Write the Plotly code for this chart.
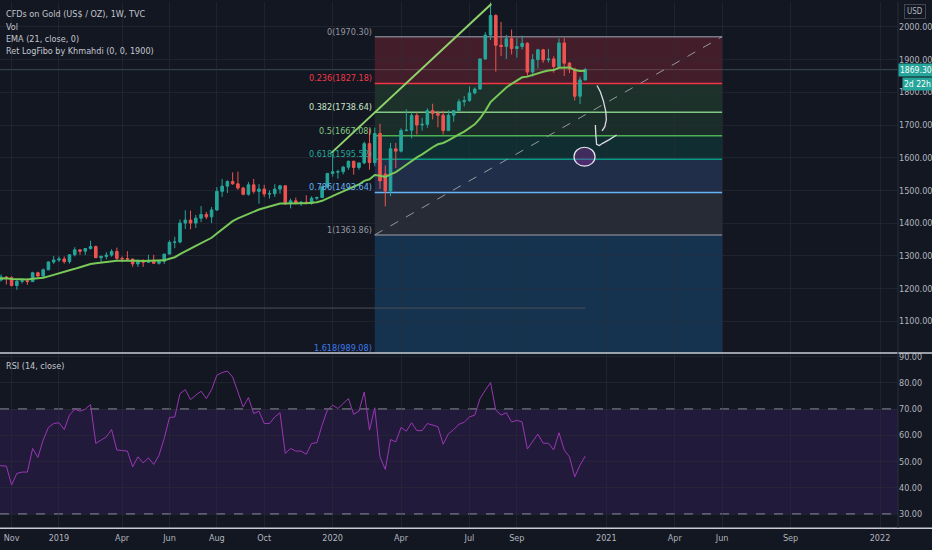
import pandas as pd
import plotly.graph_objects as go

# -----------------------------
# Weekly gold candles (TVC, 1W)
# -----------------------------

weeks = pd.date_range("2018-10-15", "2020-12-07", freq="W-MON")

opens = [1222, 1226, 1235, 1233, 1209, 1222, 1223, 1221, 1248, 1238, 1257, 1281, 1287, 1290, 1282, 1303,
         1318, 1314, 1322, 1328, 1294, 1298, 1302, 1313, 1292, 1291, 1290, 1275, 1286, 1280, 1286, 1277,
         1283, 1305, 1341, 1342, 1400, 1409, 1400, 1415, 1426, 1419, 1440, 1497, 1513, 1527, 1520, 1507,
         1488, 1517, 1497, 1504, 1489, 1490, 1504, 1514, 1459, 1468, 1462, 1464, 1460, 1476, 1478, 1511,
         1552, 1556, 1557, 1571, 1589, 1570, 1584, 1643, 1585, 1674, 1550, 1498, 1627, 1620, 1683, 1684,
         1729, 1700, 1702, 1744, 1735, 1730, 1683, 1730, 1744, 1771, 1775, 1798, 1810, 1902, 1975, 2035,
         1944, 1940, 1964, 1934, 1940, 1950, 1862, 1900, 1930, 1899, 1902, 1879, 1951, 1889, 1871, 1788,
         1838]
highs = [1233, 1243, 1238, 1237, 1226, 1231, 1230, 1251, 1251, 1261, 1283, 1299, 1298, 1298, 1304, 1326,
         1319, 1318, 1346, 1331, 1301, 1311, 1320, 1325, 1298, 1314, 1291, 1287, 1289, 1303, 1303, 1287,
         1306, 1347, 1358, 1411, 1439, 1438, 1425, 1452, 1434, 1449, 1510, 1535, 1531, 1555, 1557, 1511,
         1526, 1535, 1519, 1517, 1500, 1519, 1517, 1515, 1475, 1478, 1466, 1485, 1482, 1481, 1514, 1553,
         1611, 1563, 1575, 1591, 1591, 1584, 1649, 1689, 1692, 1704, 1576, 1645, 1645, 1690, 1748, 1738,
         1738, 1722, 1751, 1765, 1744, 1744, 1745, 1745, 1779, 1789, 1818, 1815, 1904, 1984, 2075, 2039,
         2015, 1976, 1992, 1966, 1973, 1953, 1917, 1933, 1933, 1933, 1910, 1965, 1966, 1893, 1875, 1848,
         1875]
lows = [1219, 1221, 1212, 1206, 1196, 1215, 1211, 1220, 1235, 1236, 1256, 1275, 1281, 1276, 1276, 1298,
        1303, 1302, 1319, 1293, 1280, 1289, 1297, 1287, 1280, 1286, 1266, 1266, 1266, 1278, 1275, 1273,
        1275, 1305, 1323, 1338, 1382, 1381, 1385, 1403, 1412, 1400, 1437, 1480, 1492, 1517, 1502, 1485,
        1484, 1490, 1459, 1480, 1475, 1480, 1490, 1456, 1445, 1457, 1452, 1458, 1456, 1470, 1477, 1507,
        1542, 1536, 1549, 1563, 1548, 1563, 1580, 1563, 1574, 1504, 1451, 1482, 1568, 1616, 1681, 1659,
        1671, 1683, 1692, 1717, 1693, 1671, 1682, 1710, 1743, 1757, 1771, 1794, 1808, 1900, 1960, 1863,
        1911, 1902, 1916, 1906, 1931, 1848, 1848, 1873, 1890, 1891, 1860, 1877, 1850, 1859, 1775, 1764,
        1836]
closes = [1226, 1235, 1233, 1209, 1222, 1223, 1221, 1248, 1238, 1257, 1281, 1287, 1290, 1282, 1303, 1318,
          1314, 1322, 1328, 1294, 1298, 1302, 1313, 1292, 1291, 1290, 1275, 1286, 1280, 1286, 1277, 1283,
          1305, 1341, 1342, 1400, 1409, 1400, 1415, 1426, 1419, 1440, 1497, 1513, 1527, 1520, 1507, 1488,
          1517, 1497, 1504, 1489, 1490, 1504, 1514, 1459, 1468, 1462, 1464, 1460, 1476, 1478, 1511, 1552,
          1557, 1557, 1571, 1589, 1570, 1584, 1643, 1585, 1674, 1529, 1498, 1627, 1620, 1683, 1684, 1729,
          1700, 1702, 1744, 1735, 1730, 1683, 1730, 1744, 1771, 1775, 1798, 1810, 1902, 1975, 2035, 1944,
          1940, 1964, 1934, 1940, 1950, 1862, 1900, 1930, 1899, 1902, 1879, 1951, 1889, 1871, 1788, 1838,
          1869.3]

# EMA (21, close) as drawn on the chart
ema = [1230.5, 1231, 1231, 1229, 1228.5, 1228, 1227.5, 1229.5, 1230, 1232.5, 1237, 1241.5, 1246, 1249,
       1254, 1260, 1265, 1270, 1275, 1277, 1279, 1281, 1284, 1284.5, 1285, 1285.5, 1284.5, 1284.5, 1284,
       1284.5, 1284, 1284, 1286, 1291, 1295.5, 1305, 1314.5, 1322, 1330.5, 1339, 1346.5, 1355, 1368, 1381,
       1394.5, 1406, 1414.5, 1421, 1429.5, 1435.5, 1441.5, 1446, 1450, 1455, 1460, 1460, 1461, 1461, 1461,
       1461, 1462.5, 1464, 1468, 1476, 1483, 1490, 1497, 1505, 1511, 1518, 1529, 1534, 1547, 1545, 1541,
       1549, 1556, 1567, 1578, 1591, 1601, 1610, 1622, 1632, 1641, 1645, 1653, 1661, 1671, 1680, 1691,
       1702, 1720, 1743, 1770, 1786, 1800, 1815, 1826, 1836, 1846, 1848, 1853, 1860, 1863, 1867, 1868,
       1875, 1876, 1876, 1868, 1865, 1866]

# RSI (14, close) as drawn on the chart
rsi = [49, 48.4, 48.3, 41.1, 45.5, 46, 46, 55, 51.6, 58.2, 63, 64.5, 64.8, 62.2, 67.7, 70, 69.2, 70, 71.7,
       56.9, 58.2, 59.4, 62.2, 54.4, 54.2, 54, 48, 51.8, 49.5, 51.4, 48.9, 52.4, 58.8, 66.8, 67, 75.9,
       77.4, 73.6, 75.3, 76.8, 74, 77.4, 82.9, 83.9, 84.5, 82.2, 76.5, 70.8, 74.4, 68.3, 69.2, 64.5, 64.5,
       67, 68.6, 53.1, 55, 54, 54, 52.8, 56.9, 57.2, 63.9, 69.6, 71.5, 70.2, 72.1, 74, 68, 69.2, 76.5, 62,
       70.5, 51.8, 47, 58.4, 57.5, 63, 61.6, 64.8, 61.8, 61.8, 64.5, 63.9, 63.3, 56.6, 60.6, 62.2, 64.2,
       65, 67, 67.7, 74, 77.2, 80.1, 69.6, 67.7, 68.6, 65.1, 65.7, 65.1, 54.8, 57.6, 60.5, 57, 57, 54.4,
       61, 54.4, 51.8, 44.2, 48.7, 52.1]

last_price = 1869.30

# Retracement levels (Ret LogFibo)
fib_ratios = ["0", "0.236", "0.382", "0.5", "0.618", "0.786", "1", "1.618"]
fib_prices = [1970.30, 1827.18, 1738.64, 1667.08, 1595.52, 1493.64, 1363.86, 989.08]
fib_start = "2020-03-02"
fib_end = "2021-06-07"

# axis ticks
x_ticks = ["2018-11-05", "2019-01-07", "2019-04-01", "2019-06-03", "2019-08-05", "2019-10-07",
           "2020-01-06", "2020-04-06", "2020-07-06", "2020-09-07", "2021-01-04", "2021-04-05",
           "2021-06-07", "2021-09-06", "2022-01-03"]
x_labels = ["Nov", "2019", "Apr", "Jun", "Aug", "Oct", "2020", "Apr", "Jul", "Sep", "2021", "Apr",
            "Jun", "Sep", "2022"]
price_ticks = [1100, 1200, 1300, 1400, 1500, 1600, 1700, 1800, 1900, 2000]
rsi_ticks = [30, 40, 50, 60, 70, 80, 90]

# -----------------------------
# Styling
# -----------------------------

BG = "#131722"
GRID = "rgba(42,46,57,0.55)"
TXT = "#b2b5be"
UP = "#26a69a"
DOWN = "#ef5350"
FONT = "Liberation Sans Narrow, DejaVu Sans Condensed, Liberation Sans, sans-serif"
FS = 9

fib_line_colors = ["#787b86", "#f23645", "#81c784", "#4caf50", "#089981", "#64b5f6", "#787b86", "#2962ff"]
fib_fill_colors = ["rgba(242,54,69,0.22)", "rgba(76,175,80,0.17)", "rgba(76,175,80,0.15)",
                   "rgba(8,153,129,0.18)", "rgba(90,140,230,0.2)", "rgba(120,123,134,0.2)",
                   "rgba(33,150,243,0.22)"]
fib_text_colors = ["#9598a1", "#f23645", "#c8e6c9", "#81c784", "#26a69a", "#64b5f6", "#9598a1", "#3d7bf0"]

x_range = ["2018-10-20 14:00", "2022-01-26 22:00"]
y_range = [1002.6, 2076.3]
rsi_range = [24.7, 91.0]

PLOT_H = 528


def py(pix):
    # pixel row inside the plot area -> paper fraction
    return 1 - pix / PLOT_H


fig = go.Figure()

fig.add_trace(go.Candlestick(
    x=weeks, open=opens, high=highs, low=lows, close=closes,
    increasing=dict(line=dict(color=UP, width=1), fillcolor=UP),
    decreasing=dict(line=dict(color=DOWN, width=1), fillcolor=DOWN),
    whiskerwidth=0, xaxis="x", yaxis="y", hoverinfo="skip",
))

fig.add_trace(go.Scatter(
    x=weeks, y=ema, mode="lines", line=dict(color="#78c957", width=2),
    xaxis="x", yaxis="y", hoverinfo="skip",
))

fig.add_trace(go.Scatter(
    x=weeks, y=rsi, mode="lines", line=dict(color="#9a36b4", width=1),
    xaxis="x2", yaxis="y2", hoverinfo="skip",
))

shapes = []
annotations = []

# fib zones and lines
for i in range(len(fib_prices) - 1):
    shapes.append(dict(type="rect", xref="x", yref="y", x0=fib_start, x1=fib_end,
                       y0=fib_prices[i + 1], y1=fib_prices[i], fillcolor=fib_fill_colors[i],
                       line=dict(width=0), layer="below"))
for i, p in enumerate(fib_prices):
    shapes.append(dict(type="line", xref="x", yref="y", x0=fib_start, x1=fib_end, y0=p, y1=p,
                       line=dict(color=fib_line_colors[i], width=1.5), layer="between"))
    annotations.append(dict(xref="x", yref="y", x=fib_start, y=max(p, y_range[0]),
                            text=f"{fib_ratios[i]}({p:.2f})", showarrow=False,
                            xanchor="right", yanchor="bottom", xshift=-1, yshift=-2,
                            font=dict(color=fib_text_colors[i], size=FS)))

# dashed diagonal of the fib tool
shapes.append(dict(type="line", xref="x", yref="y", x0=fib_start, y0=fib_prices[6],
                   x1=fib_end, y1=fib_prices[0],
                   line=dict(color="#9598a1", width=1, dash="dash"), layer="between"))

# green trend line drawing
shapes.append(dict(type="line", xref="x", yref="y", x0="2020-01-04", y0=1614, x1="2020-08-04", y1=2070,
                   line=dict(color="#8fd36c", width=2), layer="above"))

# horizontal gray line and current price line
shapes.append(dict(type="line", xref="x", yref="y", x0=x_range[0], x1=weeks[-1], y0=1140, y1=1140,
                   line=dict(color="#4e515c", width=1), layer="between"))
shapes.append(dict(type="line", xref="paper", yref="y", x0=0, x1=1, y0=last_price, y1=last_price,
                   line=dict(color="rgba(80,110,115,0.6)", width=1), layer="between"))

# hand drawn arrow and ellipse
shapes.append(dict(type="path", xref="x", yref="y",
                   path="M2020-12-22_14:00,1820.7 L2020-12-27,1801.7 L2020-12-31,1774.3 "
                        "L2021-01-03_07:00,1740.8 L2021-01-04,1716.3 L2021-01-02,1695 "
                        "L2020-12-29_07:00,1681.9",
                   line=dict(color="#d8dbe2", width=1.3), layer="above"))
shapes.append(dict(type="path", xref="x", yref="y",
                   path="M2020-12-20_10:00,1700.2 L2020-12-21,1670.6 L2020-12-22_02:00,1641 "
                        "L2020-12-25_17:00,1637 L2020-12-30,1644 L2021-01-08,1655.3 "
                        "L2021-01-17_17:00,1669.6",
                   line=dict(color="#d8dbe2", width=1.3), layer="above"))
shapes.append(dict(type="circle", xref="x", yref="y", x0="2020-11-22", x1="2020-12-20", y0=1574, y1=1632,
                   fillcolor="rgba(156,39,176,0.35)", line=dict(color="#e6e6ee", width=1.2), layer="above"))

# RSI band and levels
shapes.append(dict(type="rect", xref="paper", yref="y2", x0=0, x1=1, y0=30, y1=70,
                   fillcolor="rgba(120,50,200,0.15)", line=dict(width=0), layer="below"))
for lvl in (70, 30):
    shapes.append(dict(type="line", xref="paper", yref="y2", x0=0, x1=1, y0=lvl, y1=lvl,
                       line=dict(color="#b8bbc4", width=1, dash="dash"), layer="between"))

# pane separators
shapes.append(dict(type="line", xref="paper", yref="paper", x0=0, x1=1.04, y0=py(352.3), y1=py(352.3),
                   line=dict(color="#c9ccd3", width=1.5)))
shapes.append(dict(type="line", xref="paper", yref="paper", x0=0, x1=1.04, y0=py(528.3), y1=py(528.3),
                   line=dict(color="#c9ccd3", width=1.5)))
shapes.append(dict(type="line", xref="paper", yref="paper", x0=1, x1=1, y0=py(528), y1=1,
                   line=dict(color="#2a2e39", width=1)))

# legend texts
legend_lines = ["CFDs on Gold (US$ / OZ), 1W, TVC", "Vol", "EMA (21, close, 0)",
                "Ret LogFibo by Khmahdi (0, 0, 1900)"]
for i, t in enumerate(legend_lines):
    annotations.append(dict(xref="paper", yref="paper", x=0.004, y=py(12.3 + 12.3 * i), text=t,
                            showarrow=False, xanchor="left", yanchor="middle",
                            font=dict(color="#c3c6ce", size=FS)))
annotations.append(dict(xref="paper", yref="paper", x=0.004, y=py(365), text="RSI (14, close)",
                        showarrow=False, xanchor="left", yanchor="middle",
                        font=dict(color="#c3c6ce", size=FS)))

# price axis badges
annotations.append(dict(xref="paper", yref="paper", x=1, xshift=17, y=py(10), text="USD",
                        showarrow=False, xanchor="center", yanchor="middle",
                        bordercolor="#434651", borderwidth=1, borderpad=2,
                        font=dict(color=TXT, size=8)))
annotations.append(dict(xref="paper", yref="y", x=1, y=last_price, text=f"{last_price:.2f}",
                        showarrow=False, xanchor="left", yanchor="middle", xshift=0,
                        bgcolor=UP, borderpad=1, font=dict(color="#ffffff", size=8.5)))
annotations.append(dict(xref="paper", yref="y", x=1, y=last_price, yshift=-14, xshift=4,
                        text="2d 22h", showarrow=False, xanchor="left", yanchor="middle",
                        bgcolor=UP, borderpad=1, font=dict(color="#ffffff", size=8.5)))

fig.update_layout(
    width=932,
    height=550,
    margin=dict(l=0, r=33, t=0, b=22),
    paper_bgcolor=BG,
    plot_bgcolor=BG,
    font=dict(family=FONT, color=TXT, size=FS),
    showlegend=False,
    hovermode=False,
    shapes=shapes,
    annotations=annotations,
    xaxis=dict(domain=[0, 1], anchor="y", range=x_range, tickvals=x_ticks, ticktext=x_labels,
               showticklabels=False, showgrid=True, gridcolor=GRID, zeroline=False,
               rangeslider=dict(visible=False), showline=False),
    xaxis2=dict(domain=[0, 1], anchor="y2", matches="x", range=x_range, tickvals=x_ticks,
                ticktext=x_labels, showgrid=True, gridcolor=GRID, zeroline=False, ticks="",
                ticklabelstandoff=3, tickfont=dict(size=FS, color=TXT), showline=False),
    yaxis=dict(domain=[py(352.3), 1], anchor="x", side="right", range=y_range, tickvals=price_ticks,
               tickformat=".2f", showgrid=True, gridcolor=GRID, zeroline=False, ticks="",
               tickfont=dict(size=FS, color=TXT)),
    yaxis2=dict(domain=[0, py(353.3)], anchor="x2", side="right", range=rsi_range, tickvals=rsi_ticks,
                tickformat=".2f", showgrid=True, gridcolor=GRID, zeroline=False, ticks="",
                tickfont=dict(size=FS, color=TXT)),
)

# drop the default page margin so the chart sits flush in the window
fig.write_html(
    "out.html",
    config={"displayModeBar": False},
    post_script="document.body.style.margin='0';document.body.style.background='#131722';",
)
